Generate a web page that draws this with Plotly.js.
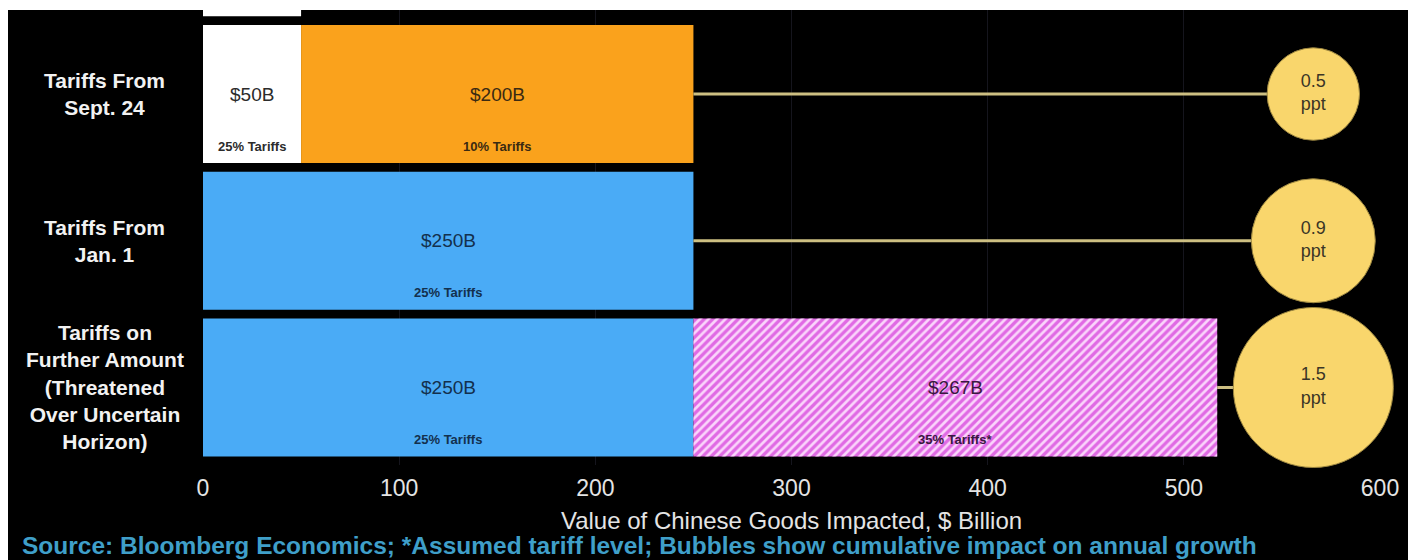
<!DOCTYPE html>
<html><head><meta charset="utf-8">
<script src="https://cdn.plot.ly/plotly-3.0.1.min.js"></script>
<style>
html,body{margin:0;padding:0;background:#fff;width:1408px;height:560px;overflow:hidden}
#chart{position:absolute;left:8px;top:10px;width:1400px;height:550px}
</style>
</head><body><div id="chart"></div>
<script>
// ---- data ----
const categories = ["Tariffs on<br>Further Amount<br>(Threatened<br>Over Uncertain<br>Horizon)", "Tariffs From<br>Jan. 1", "Tariffs From<br>Sept. 24", ""];
const firstValues = [250, 250, 50, 50];
const secondValues = [267, 0, 200, 0];
const firstLabels = ["$250B", "$250B", "$50B", "$50B"];
const secondLabels = ["$267B", "", "$200B", ""];
const firstRates = ["25% Tariffs", "25% Tariffs", "25% Tariffs", ""];
const secondRates = ["35% Tariffs*", "", "10% Tariffs", ""];
const secondThreatened = [true, false, false, false];
const growthImpact = [1.5, 0.9, 0.5, null];
const impactUnit = "ppt";
const xTicks = [0, 100, 200, 300, 400, 500, 600];
const xTitle = "Value of Chinese Goods Impacted, $ Billion";
const sourceText = "Source: Bloomberg Economics; *Assumed tariff level; Bubbles show cumulative impact on annual growth";

// ---- styles ----
const FONT = '"Liberation Sans", Arial, sans-serif';
const BLUE = '#4aabf6', WHITE = '#ffffff', ORANGE = '#faa21c', PINK = '#e06ae4';
const firstColors = [BLUE, BLUE, WHITE, WHITE];
const secondColors = [PINK, PINK, ORANGE, ORANGE];
const firstTextColors = ['#13304d', '#13304d', '#2b2b2b', '#2b2b2b'];
const secondTextColors = ['#3a1740', '#3a1740', '#3a2a12', '#3a2a12'];
const BUBBLE_X = 566;
const BUBBLE_MAX_D = 160;

const idx = categories.map((_, i) => i);
const totals = firstValues.map((v, i) => v + secondValues[i]);

const traces = [];
traces.push({
  type: 'bar', orientation: 'h', y: idx, x: firstValues, base: idx.map(() => 0),
  marker: {color: firstColors, line: {width: 0}}, hoverinfo: 'skip', showlegend: false
});
traces.push({
  type: 'bar', orientation: 'h', y: idx, x: secondValues, base: firstValues,
  marker: {color: secondColors, line: {width: 0}}, hoverinfo: 'skip', showlegend: false
});
// hatch overlay on the threatened (assumed) segment
traces.push({
  type: 'bar', orientation: 'h', y: idx, x: secondValues.map((v, i) => secondThreatened[i] ? v : 0), base: firstValues,
  marker: {color: 'rgba(255,232,255,0.85)', line: {width: 0},
    pattern: {shape: '/', fillmode: 'replace', size: 6, solidity: 0.45}},
  hoverinfo: 'skip', showlegend: false
});
growthImpact.forEach((g, i) => {
  if (g == null) return;
  traces.push({
    type: 'scatter', mode: 'lines', x: [totals[i], BUBBLE_X], y: [i, i],
    line: {color: '#cdbf82', width: 3}, hoverinfo: 'skip', showlegend: false
  });
});
const maxG = Math.max(...growthImpact.filter(v => v != null));
traces.push({
  type: 'scatter', mode: 'markers+text',
  x: idx.map(() => BUBBLE_X), y: idx,
  text: growthImpact.map(g => g == null ? '' : g.toFixed(1) + '<br>' + impactUnit),
  textposition: 'middle center',
  textfont: {family: FONT, size: 18, color: '#3b3526'},
  marker: {size: growthImpact, sizemode: 'area', sizeref: 2 * maxG / (BUBBLE_MAX_D * BUBBLE_MAX_D),
    color: '#f9d66c', opacity: 1, line: {color: '#9c8640', width: 1}},
  cliponaxis: false, hoverinfo: 'skip', showlegend: false
});

const annotations = [];
categories.forEach((c, i) => {
  if (c) annotations.push({xref: 'paper', yref: 'y', x: -0.0833, y: i, xanchor: 'center', yanchor: 'middle',
    text: c, showarrow: false, align: 'center', font: {family: FONT, size: 21, color: '#f2f2f2', weight: 'bold'}});
  if (firstLabels[i]) {
    annotations.push({xref: 'x', yref: 'y', x: firstValues[i] / 2, y: i, text: firstLabels[i], showarrow: false,
      font: {family: FONT, size: 19, color: firstTextColors[i]}});
    annotations.push({xref: 'x', yref: 'y', x: firstValues[i] / 2, y: i, yshift: -52, text: firstRates[i], showarrow: false,
      font: {family: FONT, size: 13, color: firstTextColors[i], weight: 'bold'}});
  }
  if (secondLabels[i]) {
    annotations.push({xref: 'x', yref: 'y', x: firstValues[i] + secondValues[i] / 2, y: i, text: secondLabels[i], showarrow: false,
      font: {family: FONT, size: 19, color: secondTextColors[i]}});
    annotations.push({xref: 'x', yref: 'y', x: firstValues[i] + secondValues[i] / 2, y: i, yshift: -52, text: secondRates[i], showarrow: false,
      font: {family: FONT, size: 13, color: secondTextColors[i], weight: 'bold'}});
  }
});
annotations.push({xref: 'paper', yref: 'paper', x: (20 - 8 - 195) / 1177, y: (455 - 535) / 455,
  xanchor: 'left', yanchor: 'middle', text: sourceText, showarrow: false,
  font: {family: FONT, size: 24.5, color: '#3f9fc9', weight: 'bold'}});

const layout = {
  width: 1400, height: 550,
  margin: {l: 195, r: 28, t: 0, b: 95},
  paper_bgcolor: '#000', plot_bgcolor: '#000',
  barmode: 'overlay', bargap: 0.06,
  showlegend: false,
  font: {family: FONT},
  xaxis: {range: [0, 600], tickvals: xTicks, ticks: '', showline: false, zeroline: false,
    showgrid: true, gridcolor: '#15151d', gridwidth: 1,
    tickfont: {family: FONT, size: 23, color: '#e4e4e4'}, ticklabelstandoff: 7,
    title: {text: xTitle, font: {family: FONT, size: 24, color: '#e4e4e4'}, standoff: 12}},
  yaxis: {range: [-0.5283, 2.5726], showticklabels: false, showgrid: false, zeroline: false, showline: false, ticks: ''},
  annotations: annotations
};
Plotly.newPlot('chart', traces, layout, {displayModeBar: false, staticPlot: true});
</script>
</body></html>
